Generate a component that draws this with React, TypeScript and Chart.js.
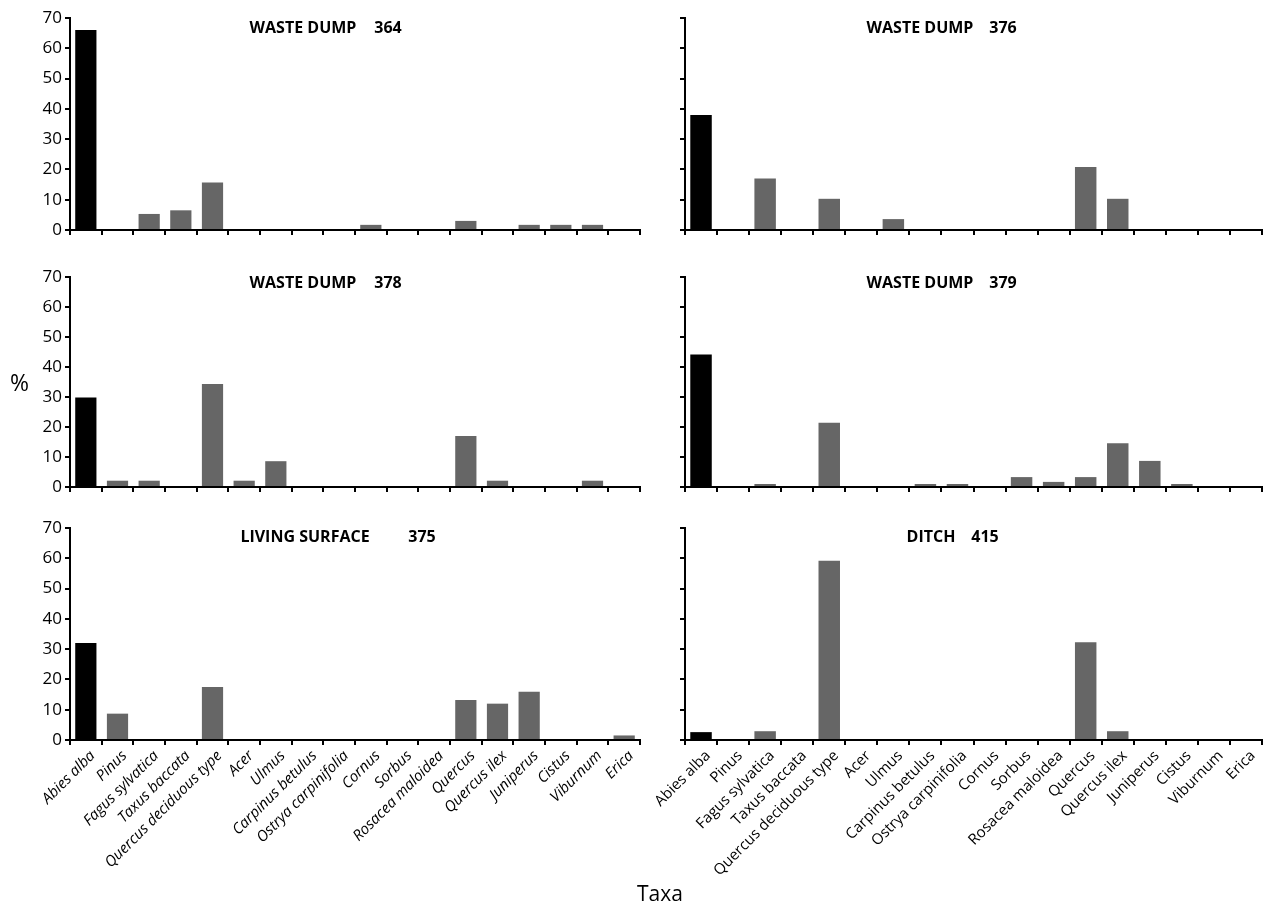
import React, { useEffect, useRef } from 'react';
import { Chart, registerables } from 'chart.js';

Chart.register(...registerables);

const taxa = [
  'Abies alba', 'Pinus', 'Fagus sylvatica', 'Taxus baccata', 'Quercus deciduous type',
  'Acer', 'Ulmus', 'Carpinus betulus', 'Ostrya carpinifolia', 'Cornus', 'Sorbus',
  'Rosacea maloidea', 'Quercus', 'Quercus ilex', 'Juniperus', 'Cistus', 'Viburnum', 'Erica',
];

const yTicks = [0, 10, 20, 30, 40, 50, 60, 70];

const wasteDump364 = [66, 0, 5.3, 6.5, 15.7, 0, 0, 0, 0, 1.7, 0, 0, 3, 0, 1.7, 1.7, 1.7, 0];
const wasteDump376 = [38, 0, 17, 0, 10.3, 0, 3.6, 0, 0, 0, 0, 0, 20.8, 10.3, 0, 0, 0, 0];
const wasteDump378 = [29.8, 2.1, 2.1, 0, 34.3, 2.1, 8.6, 0, 0, 0, 0, 0, 17, 2.1, 0, 0, 2.1, 0];
const wasteDump379 = [44.2, 0, 1, 0, 21.4, 0, 0, 1, 1, 0, 3.3, 1.7, 3.3, 14.6, 8.7, 1, 0, 0];
const livingSurface375 = [32, 8.7, 0, 0, 17.5, 0, 0, 0, 0, 0, 0, 0, 13.2, 12, 15.9, 0, 0, 1.5];
const ditch415 = [2.6, 0, 2.9, 0, 59.2, 0, 0, 0, 0, 0, 0, 0, 32.3, 2.9, 0, 0, 0, 0];

const FONT = "'Open Sans', sans-serif";

type PanelProps = {
  values: number[];
  name: string;
  num: string;
  left: number;
  top: number;
  width: number;
  height: number;
  pad: { top: number; right: number; bottom: number; left: number };
  yWidth: number;
  xHeight: number;
  showY: boolean;
  showX: boolean;
  italic: boolean;
  nameCx: number;
  numCx: number;
  titleDy: number;
};

function Panel(p: PanelProps) {
  const ref = useRef<HTMLCanvasElement>(null);
  useEffect(() => {
    const titlePlugin = {
      id: 'panelTitle',
      afterDatasetsDraw(chart: any) {
        const { ctx, chartArea } = chart;
        ctx.save();
        ctx.font = `bold 16px ${FONT}`;
        ctx.fillStyle = '#000';
        ctx.textAlign = 'center';
        ctx.textBaseline = 'middle';
        ctx.fillText(p.name, chartArea.left + p.nameCx, chartArea.top + p.titleDy);
        ctx.fillText(p.num, chartArea.left + p.numCx, chartArea.top + p.titleDy);
        ctx.restore();
      },
    };
    const gridOpts = {
      display: true,
      drawOnChartArea: false,
      drawTicks: true,
      tickLength: 5,
      color: '#000',
      lineWidth: 2,
    };
    const chart = new Chart(ref.current as HTMLCanvasElement, {
      type: 'bar',
      data: {
        labels: taxa,
        datasets: [
          {
            data: p.values,
            backgroundColor: p.values.map((_, i) => (i === 0 ? '#000000' : '#666666')),
            borderWidth: 0,
            barPercentage: 0.67,
            categoryPercentage: 1,
          },
        ],
      },
      options: {
        responsive: false,
        animation: false,
        layout: { padding: p.pad },
        plugins: {
          legend: { display: false },
          tooltip: { enabled: false },
          title: { display: false },
        },
        scales: {
          x: {
            grid: { ...gridOpts, offset: true },
            border: { display: true, color: '#000', width: 2 },
            ticks: {
              display: p.showX,
              autoSkip: false,
              minRotation: 45,
              maxRotation: 45,
              color: '#000',
              padding: 2,
              labelOffset: 7,
              font: { family: FONT, size: 15, style: p.italic ? 'italic' : 'normal' },
            },
            afterFit: (s: any) => {
              s.height = p.xHeight;
            },
          },
          y: {
            min: 0,
            max: 70,
            grid: { ...gridOpts, offset: false },
            border: { display: true, color: '#000', width: 2 },
            ticks: {
              display: p.showY,
              color: '#000',
              padding: 3,
              font: { family: FONT, size: 17 },
            },
            afterBuildTicks: (s: any) => {
              s.ticks = yTicks.map((v) => ({ value: v }));
            },
            afterFit: (s: any) => {
              s.width = p.yWidth;
            },
          },
        },
      },
      plugins: [titlePlugin],
    } as any);
    return () => chart.destroy();
  }, []);
  return (
    <canvas
      ref={ref}
      width={p.width}
      height={p.height}
      style={{ position: 'absolute', left: p.left, top: p.top, width: p.width, height: p.height }}
    />
  );
}

const LEFT = { left: 0, width: 645, yWidth: 70, showY: true, italic: true, padH: { left: 0, right: 5 } };
const RIGHT = { left: 645, width: 619, yWidth: 40, showY: false, italic: false, padH: { left: 0, right: 2 } };
const ROW1 = { top: 0, height: 245, padTop: 18, xHeight: 15, showX: false, titleDy: 10 };
const ROW2 = { top: 255, height: 247, padTop: 22, xHeight: 15, showX: false, titleDy: 6 };
const ROW3 = { top: 505, height: 385, padTop: 23, xHeight: 150, showX: true, titleDy: 9 };

function mk(col: any, row: any, values: number[], name: string, num: string, nameCx: number, numCx: number) {
  return (
    <Panel
      values={values}
      name={name}
      num={num}
      left={col.left}
      top={row.top}
      width={col.width}
      height={row.height}
      pad={{ top: row.padTop, right: col.padH.right, bottom: 0, left: col.padH.left }}
      yWidth={col.yWidth}
      xHeight={row.xHeight}
      showY={col.showY}
      showX={row.showX}
      italic={col.italic}
      nameCx={nameCx}
      numCx={numCx}
      titleDy={row.titleDy}
    />
  );
}

export default function App() {
  return (
    <div style={{ position: 'absolute', left: 0, top: 0, width: 1264, height: 911, background: '#fff', fontFamily: FONT }}>
      {mk(LEFT, ROW1, wasteDump364, 'WASTE DUMP', '364', 233, 318)}
      {mk(RIGHT, ROW1, wasteDump376, 'WASTE DUMP', '376', 235, 318)}
      {mk(LEFT, ROW2, wasteDump378, 'WASTE DUMP', '378', 233, 318)}
      {mk(RIGHT, ROW2, wasteDump379, 'WASTE DUMP', '379', 235, 318)}
      {mk(LEFT, ROW3, livingSurface375, 'LIVING SURFACE', '375', 235, 352)}
      {mk(RIGHT, ROW3, ditch415, 'DITCH', '415', 246, 300)}
      <div style={{ position: 'absolute', left: 10, top: 368, fontSize: 23, lineHeight: '28px', color: '#000' }}>%</div>
      <div style={{ position: 'absolute', left: 634, top: 880, width: 52, textAlign: 'center', fontSize: 21, lineHeight: '26px', color: '#000' }}>Taxa</div>
    </div>
  );
}
